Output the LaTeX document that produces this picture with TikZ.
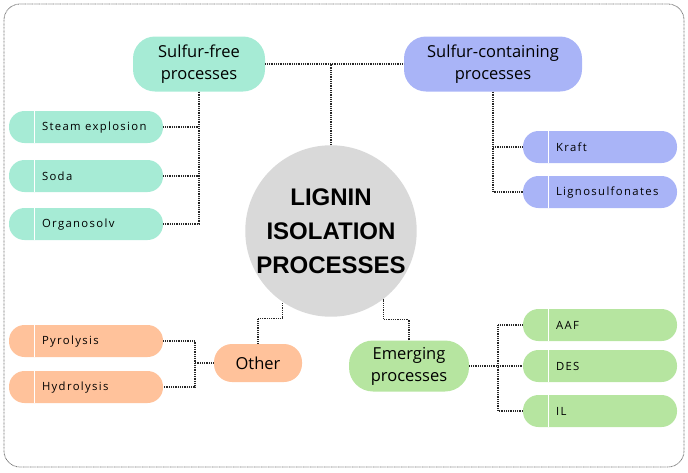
\documentclass[tikz,border=0pt]{standalone}
\usepackage{fontspec}
\setmainfont{Open Sans}
\newfontfamily\titlefont{Liberation Sans}
\usetikzlibrary{calc}
\definecolor{mint}{HTML}{A6EBD5}
\definecolor{lblue}{HTML}{A9B4F7}
\definecolor{orng}{HTML}{FFC29B}
\definecolor{lgreen}{HTML}{B6E5A0}
\definecolor{cgray}{HTML}{D9D9D9}
\tikzset{
  conn/.style={draw=black!85, line width=1.1pt, dash pattern=on 1pt off 0.8pt},
  head/.style={rounded corners=22pt, minimum height=55pt, align=center, font=\fontsize{16.5}{22}\selectfont, text=black, inner sep=2pt},
  leaf/.style={rounded corners=15.5pt, minimum width=154pt, minimum height=32pt, inner sep=0pt},
  leaftext/.style={anchor=west, inner sep=0pt, font=\fontsize{11.3}{13}\selectfont\addfontfeature{LetterSpace=12}, text=black},
  divider/.style={draw=white, line width=1.3pt}
}
\newcommand{\leafbox}[4]{%
  \node[leaf, fill=#2] (#1) at (#3) {};
  \draw[divider] ([xshift=26pt]#1.north west) -- ([xshift=26pt]#1.south west);
  \node[leaftext] at ([xshift=33pt,yshift=-0.5pt]#1.west) {#4};
}
\begin{document}
\begin{tikzpicture}[x=1pt, y=-1pt]
\useasboundingbox (0,0) rectangle (688,472);
\draw[draw=black!55, line width=0.8pt, dash pattern=on 0.8pt off 0.6pt, rounded corners=16pt] (4,4) rectangle (684,467);

% central circle
\node[circle, fill=cgray, minimum size=168pt, inner sep=0pt, align=center,
      font=\titlefont\bfseries\fontsize{24}{34}\selectfont] (circ) at (331,231) {LIGNIN\\ISOLATION\\PROCESSES};

% headers
\node[head, fill=mint, minimum width=132pt] (sf) at (199,64) {Sulfur-free\\processes};
\node[head, fill=lblue, minimum width=178pt] (sc) at (493,64) {Sulfur-containing\\processes};
\node[head, fill=orng, minimum width=88pt, minimum height=38pt, rounded corners=18pt] (oth) at (258,363) {Other};
\node[head, fill=lgreen, minimum width=120pt, minimum height=51pt, rounded corners=24pt] (emg) at (409,366) {Emerging\\processes};

% leaves
\leafbox{se}{mint}{86,127}{Steam explosion}
\leafbox{so}{mint}{86,176}{Soda}
\leafbox{og}{mint}{86,224}{Organosolv}
\leafbox{kr}{lblue}{600,147}{Kraft}
\leafbox{ls}{lblue}{600,192}{Lignosulfonates}
\leafbox{py}{orng}{86,341}{Pyrolysis}
\leafbox{hy}{orng}{86,387}{Hydrolysis}
\leafbox{aaf}{lgreen}{600,325}{AAF}
\leafbox{des}{lgreen}{600,366}{DES}
\leafbox{il}{lgreen}{600,411}{IL}

% connectors
\draw[conn] (sf.east) -- (sc.west);
\draw[conn] (circ.north) -- (circ.north |- sf.east);
\draw[conn] (sf.south) |- (og.east);
\draw[conn] (se.east) -- (se.east -| sf.south);
\draw[conn] (so.east) -- (so.east -| sf.south);
\draw[conn] (sc.south) |- (ls.west);
\draw[conn] (kr.west) -- (kr.west -| sc.south);
\coordinate (oj) at (195,363);
\draw[conn] (py.east) -| (oj) |- (hy.east);
\draw[conn] (oth.west) -- (oj);
\draw[conn] (oth.north) -- ++(0,-25) -| (circ.236);
\draw[conn] (emg.north) -- ++(0,-21) -| (circ.308);
\coordinate (ej) at (498,366);
\draw[conn] (aaf.west) -| (ej) |- (il.west);
\draw[conn] (emg.east) -- (des.west);
\end{tikzpicture}
\end{document}
